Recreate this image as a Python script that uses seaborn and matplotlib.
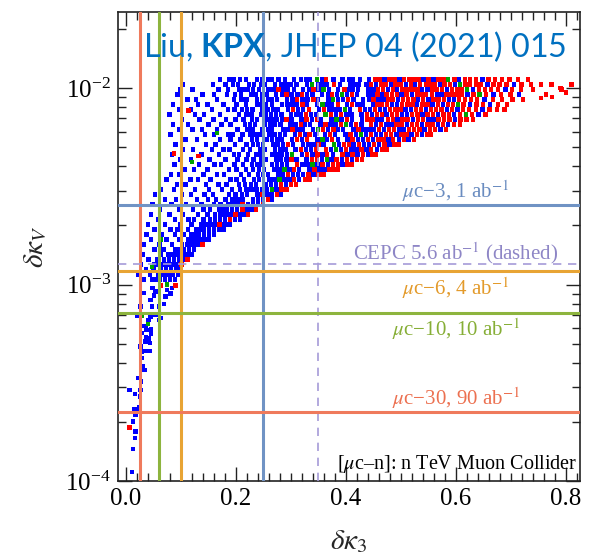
import matplotlib
matplotlib.use("Agg")
import matplotlib.pyplot as plt
import numpy as np
import pandas as pd
import seaborn as sns
from matplotlib.ticker import MultipleLocator, LogLocator, NullFormatter

# ---------------- data ----------------
# scatter rows: delta kappa_V per row (units of 1e-3); delta kappa_3 values per row (units of 1e-3)
row_dkv_e3 = [11.05, 10.42, 9.83, 9.27, 8.74, 8.24, 7.77, 7.33, 6.91, 6.52,
              6.15, 5.80, 5.47, 5.16, 4.86, 4.59, 4.33, 4.08, 3.85, 3.63,
              3.42, 3.23, 3.04, 2.87, 2.71, 2.55, 2.41, 2.27, 2.14, 2.02,
              1.905, 1.797, 1.694, 1.598, 1.507, 1.421, 1.340, 1.264, 1.192, 1.124,
              1.060]

blue_rows = [
    [171, 188, 196, 207, 218, 238, 247, 259, 266, 277, 289, 306, 318, 327, 335, 356, 377, 394, 405, 413, 426, 442, 470, 497, 541, 559, 606, 648],
    [104, 158, 181, 195, 204, 224, 233, 245, 253, 271, 283, 292, 299, 310, 329, 349, 357, 366, 389, 408, 416, 424, 437, 455, 482, 509, 526, 571, 598, 657, 706],
    [99, 121, 168, 185, 205, 214, 222, 231, 242, 259, 268, 286, 294, 305, 322, 333, 350, 369, 386, 405, 413, 422, 441, 450, 476, 493, 538, 548, 584, 631, 690],
    [94, 139, 160, 184, 198, 209, 228, 236, 247, 256, 273, 284, 301, 312, 329, 339, 356, 367, 384, 402, 420, 440, 448, 465, 501, 520, 565, 574, 621, 668, 715],
    [112, 127, 165, 196, 210, 219, 238, 247, 258, 266, 275, 293, 303, 321, 330, 349, 368, 386, 395, 414, 431, 442, 459, 468, 495, 531, 550, 587, 596, 652],
    [86, 131, 148, 177, 201, 218, 238, 246, 255, 266, 284, 293, 301, 310, 329, 347, 366, 374, 402, 421, 430, 449, 484, 493, 529, 557, 576, 625, 662],
    [96, 118, 156, 185, 197, 211, 220, 230, 248, 257, 268, 276, 295, 313, 322, 351, 370, 379, 388, 407, 435, 444, 462, 471, 508, 518, 546, 584, 603, 648],
    [79, 125, 142, 171, 206, 219, 228, 246, 255, 264, 273, 283, 300, 310, 318, 336, 346, 382, 401, 410, 428, 447, 474, 502, 511, 539, 567, 596, 641],
    [102, 134, 159, 182, 199, 214, 229, 238, 257, 265, 274, 284, 301, 319, 338, 355, 374, 392, 411, 429, 457, 466, 494, 522, 550, 559, 598],
    [85, 113, 150, 174, 190, 216, 226, 235, 253, 263, 271, 281, 299, 308, 326, 335, 354, 372, 381, 409, 428, 455, 474, 483, 511, 538, 567, 586],
    [97, 121, 138, 166, 203, 221, 230, 248, 258, 266, 285, 294, 312, 321, 340, 367, 386, 395, 414, 432, 441, 450, 469, 497, 506, 543, 572],
    [81, 144, 160, 185, 194, 212, 226, 234, 243, 261, 270, 280, 289, 307, 325, 344, 362, 380, 399, 418, 436, 455, 464, 492, 519, 538],
    [108, 129, 171, 190, 208, 229, 238, 256, 265, 275, 283, 302, 320, 348, 366, 385, 403, 422, 431, 449, 477, 496, 514],
    [90, 145, 163, 198, 219, 231, 240, 249, 268, 276, 286, 304, 322, 332, 341, 359, 387, 414, 433, 442, 460, 479],
    [103, 122, 156, 177, 188, 213, 226, 244, 253, 271, 281, 290, 308, 327, 336, 373, 391, 410, 419, 437, 456],
    [84, 137, 169, 196, 206, 222, 237, 246, 265, 274, 283, 293, 320, 339, 357, 376, 403, 421, 440],
    [99, 118, 152, 181, 203, 219, 232, 246, 255, 274, 282, 292, 310, 328, 356, 374, 393, 411],
    [88, 133, 161, 173, 197, 213, 229, 239, 247, 266, 275, 284, 293, 321, 330, 348, 367, 394],
    [107, 124, 148, 187, 201, 218, 231, 242, 251, 270, 279, 297, 315, 334, 352, 361],
    [82, 96, 141, 166, 178, 209, 224, 240, 249, 258, 277, 286, 304, 313, 322, 341],
    [74, 117, 131, 154, 190, 201, 215, 233, 242, 261, 270, 288, 297, 315],
    [93, 108, 146, 168, 183, 205, 216, 227, 236, 255, 264, 273, 291],
    [64, 87, 126, 151, 175, 193, 207, 219, 228, 237, 247, 256, 274],
    [53, 102, 118, 143, 158, 187, 199, 211, 220, 239, 257, 266, 281],
    [71, 91, 129, 149, 164, 181, 194, 203, 212, 231, 240, 249, 266],
    [48, 83, 109, 137, 160, 172, 185, 194, 203, 222, 231, 240],
    [62, 97, 122, 141, 153, 169, 176, 184, 193, 202, 221, 229],
    [45, 79, 104, 131, 148, 162, 172, 181, 190, 208, 216],
    [58, 89, 114, 124, 141, 153, 162, 171, 180, 198, 207],
    [40, 71, 98, 119, 136, 144, 152, 161, 179, 188],
    [52, 81, 94, 113, 127, 135, 142, 151, 160, 169, 177],
    [37, 66, 89, 106, 118, 126, 133, 142, 151, 160],
    [45, 74, 97, 114, 123, 132, 141, 150],
    [33, 61, 84, 102, 112, 121, 130],
    [52, 68, 89, 97, 106, 115, 124],
    [30, 63, 77, 85, 94, 103, 112, 120],
    [41, 57, 69, 78, 87, 96, 105],
    [27, 52, 61, 70, 79, 88, 97],
    [36, 50, 64, 73, 82, 91, 99],
    [23, 44, 59, 68, 77, 86, 95],
    [33, 48, 55, 62, 71, 80, 89],
]

red_rows = [
    [364, 453, 461, 479, 488, 506, 515, 523, 532, 550, 568, 577, 597, 616, 625, 636, 659, 671, 684, 697, 713, 731],
    [378, 446, 464, 472, 490, 499, 518, 535, 545, 553, 561, 579, 589, 617, 626, 637, 645, 668, 679, 692, 719, 736, 755, 774],
    [277, 341, 397, 458, 467, 485, 503, 512, 521, 530, 557, 566, 575, 593, 603, 611, 642, 653, 664, 676, 702, 718, 740, 792],
    [292, 320, 375, 411, 457, 474, 484, 493, 510, 529, 537, 546, 556, 583, 592, 601, 610, 632, 655, 682, 699, 764],
    [311, 341, 404, 450, 477, 486, 504, 513, 523, 540, 559, 568, 578, 606, 616, 627, 638, 667, 684, 703, 722],
    [321, 385, 411, 457, 466, 475, 502, 512, 521, 539, 548, 567, 585, 595, 614, 637, 649, 676, 693],
    [304, 333, 360, 426, 453, 480, 490, 499, 527, 536, 555, 564, 574, 593, 613, 624, 636, 661, 675, 688],
    [327, 373, 391, 438, 456, 465, 484, 493, 520, 530, 548, 558, 577, 587, 607, 629, 654],
    [292, 328, 347, 402, 439, 448, 476, 485, 503, 512, 531, 540, 568, 578, 588, 608, 619, 631],
    [318, 363, 391, 418, 446, 464, 492, 501, 520, 529, 548, 557, 576, 596, 607],
    [303, 358, 377, 423, 460, 478, 487, 515, 524, 534, 553, 562, 582],
    [316, 334, 371, 408, 445, 473, 482, 501, 510, 529, 547, 555],
    [311, 329, 375, 412, 440, 459, 468, 486, 505, 524],
    [295, 350, 396, 405, 424, 451, 470, 488, 496],
    [318, 345, 364, 400, 428, 446, 465, 474],
    [329, 348, 366, 394, 412, 431, 448, 455],
    [301, 338, 347, 383, 402, 420, 429],
    [311, 357, 376, 385, 403, 410],
    [306, 343, 370, 379, 386],
    [295, 332, 350, 359],
    [306, 325, 334],
    [282, 300, 309],
    [283, 292],
    [248, 275],
    [258],
    [212, 249],
    [212, 236],
    [199, 222],
    [189],
    [170],
    [], [], [],
    [139],
    [], [],
    [112],
    [101],
    [], [], [],
]

green_rows = [
    [347, 586], [338, 607], [359, 620], [393, 643], [376],
    [357, 604], [398], [363, 618], [383], [400],
    [349], [427], [357], [378], [382],
    [302], [365], [339], [288], [],
    [279], [], [265], [], [], [], [], [], [], [],
    [], [], [63], [], [], [], [], [], [], [],
    [],
]

# isolated points (delta kappa_3, delta kappa_V in 1e-3)
blue_extra_dk3 = [0.0115, 0.013, 0.016, 0.0175, 0.0127, 0.015, 0.0205, 0.0235, 0.0175, 0.0067,
                  0.0163, 0.0266, 0.025, 0.0278, 0.0223, 0.0296, 0.030, 0.034, 0.0296, 0.028,
                  0.0375, 0.0435, 0.0266, 0.0357, 0.0435, 0.0368, 0.042, 0.0458, 0.0284, 0.0375,
                  0.0458, 0.0357, 0.027, 0.060, 0.041, 0.0447, 0.0205, 0.054, 0.063, 0.0477,
                  0.0266, 0.060, 0.069, 0.0447, 0.0507, 0.072, 0.0326, 0.054, 0.075, 0.081,
                  0.084, 0.048]
blue_extra_dkv_e3 = [0.111, 0.145, 0.166, 0.179, 0.201, 0.233, 0.233, 0.237, 0.217, 0.291,
                     0.277, 0.291, 0.269, 0.321, 0.334, 0.368, 0.383, 0.368, 0.422, 0.456,
                     0.460, 0.460, 0.484, 0.513, 0.503, 0.537, 0.530, 0.558, 0.565, 0.588,
                     0.590, 0.616, 0.616, 0.660, 0.660, 0.687, 0.690, 0.700, 0.674, 0.773,
                     0.773, 0.773, 0.794, 0.836, 0.879, 0.870, 0.903, 0.920, 0.940, 0.900,
                     0.958, 0.960]
red_extra_dk3 = [0.0067, 0.063, 0.090, 0.087, 0.114, 0.132, 0.790, 0.800, 0.775, 0.810, 0.755]
red_extra_dkv_e3 = [0.187, 0.99, 0.99, 4.65, 7.7, 4.5, 10.0, 9.5, 9.0, 10.4, 8.9]
green_extra_dk3 = [0.0404, 0.0296, 0.075, 0.120, 0.165, 0.047]
green_extra_dkv_e3 = [0.63, 0.69, 1.00, 4.2, 5.9, 1.23]

# constraint lines
v_lines = [0.025, 0.06, 0.10, 0.25]
v_colors = ["#EF7A5C", "#8DB43E", "#E8A434", "#7093C4"]
cepc_dk3 = 0.35
h_labels = ["$\\mu$c\u22123, 1 ab$^{-1}$", "CEPC 5.6 ab$^{-1}$ (dashed)",
            "$\\mu$c\u22126, 4 ab$^{-1}$", "$\\mu$c\u221210, 10 ab$^{-1}$",
            "$\\mu$c\u221230, 90 ab$^{-1}$"]
h_values = [2.55e-3, 1.27e-3, 1.17e-3, 7.15e-4, 2.24e-4]
h_colors = ["#7093C4", "#A59BD8", "#E8A434", "#8DB43E", "#EF7A5C"]
h_text_colors = ["#6A8CC0", "#8E86C6", "#E39A2A", "#86AE36", "#EC7050"]
h_text_offsets_px = [7, 5, -24, -23, 7]

# ---------------- build table ----------------
recs = []
for grp, rows in (("blue", blue_rows), ("red", red_rows), ("green", green_rows)):
    for yv, xs in zip(row_dkv_e3, rows):
        for xv in xs:
            recs.append((xv * 1e-3, yv * 1e-3, grp))
for grp, xs, ys in (("blue", blue_extra_dk3, blue_extra_dkv_e3),
                    ("red", red_extra_dk3, red_extra_dkv_e3),
                    ("green", green_extra_dk3, green_extra_dkv_e3)):
    for xv, yv in zip(xs, ys):
        recs.append((xv, yv * 1e-3, grp))
order = {"blue": 0, "red": 1, "green": 2}
df = pd.DataFrame(recs, columns=["dk3", "dkv", "grp"])
df["o"] = df["grp"].map(order)
df = df.sort_values("o", kind="stable")

# ---------------- style ----------------
sns.set_style("ticks")
plt.rcParams["font.family"] = ["Liberation Serif", "DejaVu Serif"]
plt.rcParams["mathtext.fontset"] = "stix"
plt.rcParams["mathtext.rm"] = "Lato"
plt.rcParams["mathtext.bf"] = "Lato:bold"
plt.rcParams["axes.edgecolor"] = "#222222"
plt.rcParams["xtick.color"] = "#222222"
plt.rcParams["ytick.color"] = "#222222"
plt.rcParams["xtick.labelcolor"] = "black"
plt.rcParams["ytick.labelcolor"] = "black"

fig = plt.figure(figsize=(5.90, 5.54), dpi=100)
ax = fig.add_axes([118 / 590, 1 - 481 / 554, 462 / 590, 469 / 554])

sns.scatterplot(data=df, x="dk3", y="dkv", hue="grp",
                palette={"blue": "#0000FF", "red": "#FF0000", "green": "#00A300"},
                marker="s", s=10, linewidth=0, legend=False, ax=ax, zorder=2)

ax.set_yscale("log")
ax.set_xlim(-0.0145, 0.8255)
ax.set_ylim(1e-4, 10 ** -1.613)

for xv, c in zip(v_lines, v_colors):
    ax.axvline(xv, color=c, lw=2.2, zorder=3)
ax.axvline(cepc_dk3, color="#A59BD8", lw=1.2, ls=(0, (5, 4)), zorder=3)

for i, (yv, c) in enumerate(zip(h_values, h_colors)):
    if i == 1:
        ax.axhline(yv, color=c, lw=1.2, ls=(0, (5, 4)), zorder=3)
    else:
        ax.axhline(yv, color=c, lw=2.2, zorder=3)
    ax.annotate(h_labels[i], xy=(0.6, yv), xycoords="data",
                xytext=(0, h_text_offsets_px[i] * 0.72), textcoords="offset points",
                ha="center", va="baseline", color=h_text_colors[i], fontsize=15, zorder=4)

ax.text(0.735, 0.0256, "[$\\mu$c\u2013n]: n TeV Muon Collider", transform=ax.transAxes,
        ha="center", va="baseline", fontsize=14.5, color="black", zorder=4)

ax.text(0.054, 0.904, r"Liu, $\mathbf{KPX}$, JHEP 04 (2021) 015", transform=ax.transAxes,
        fontfamily="Lato", math_fontfamily="custom", fontsize=23.2, color="#0070C0",
        ha="left", va="baseline", zorder=5)

ax.xaxis.set_major_locator(MultipleLocator(0.2))
ax.xaxis.set_minor_locator(MultipleLocator(0.02))
ax.yaxis.set_major_locator(LogLocator(base=10, numticks=10))
ax.yaxis.set_minor_locator(LogLocator(base=10, subs=np.arange(2, 10), numticks=20))
ax.yaxis.set_minor_formatter(NullFormatter())
ax.tick_params(which="both", direction="in", top=True, right=True, width=1.0)
ax.tick_params(which="major", length=10, labelsize=18, pad=5)
ax.tick_params(which="minor", length=5.5)
for sp in ax.spines.values():
    sp.set_linewidth(1.2)

ax.set_xlabel(r"$\delta\kappa_3$", fontsize=21)
ax.set_ylabel(r"$\delta\kappa_V$", fontsize=21)
ax.xaxis.set_label_coords(0.5, -0.100)
ax.yaxis.set_label_coords(-0.152, 0.5)

fig.savefig("out.png", dpi=100)
